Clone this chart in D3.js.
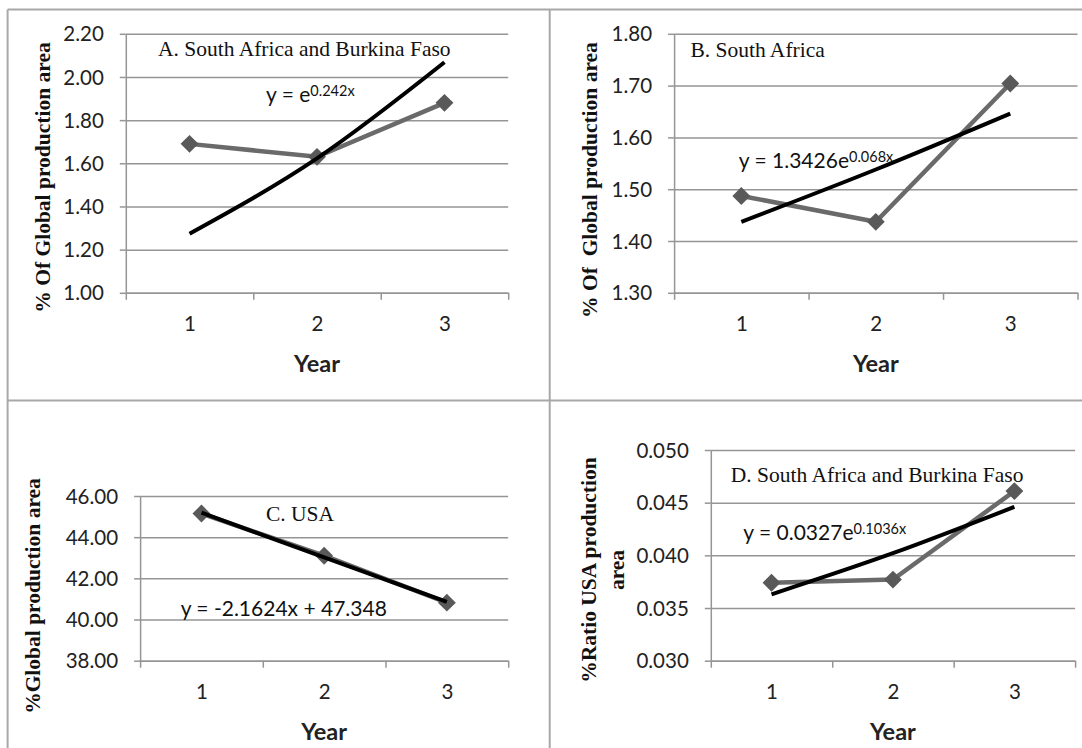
<!DOCTYPE html>
<html>
<head>
<meta charset="utf-8">
<script src="https://cdn.jsdelivr.net/npm/d3@7"></script>
<style>
  body { margin: 0; background: #fff; }
  svg { display: block; }
  .tick text { font-family: Lato, sans-serif; font-size: 20.5px; fill: #222; }
  .eq { font-family: Lato, sans-serif; font-size: 21px; fill: #111; }
  .yearLabel { font-family: Lato, sans-serif; font-size: 23.5px; font-weight: bold; fill: #222; }
  .panelTitle { font-family: "Liberation Serif", serif; font-size: 21.5px; fill: #111; }
  .axisTitle { font-family: "Liberation Serif", serif; font-size: 21.5px; font-weight: bold; fill: #111; white-space: pre; }
</style>
</head>
<body>
<div id="chart"></div>
<script>
'use strict';

// Data
const years = [1, 2, 3];

const shareA = [1.69, 1.63, 1.88];
const trendA = [1.274, 1.623, 2.068];
const ticksA = [1.00, 1.20, 1.40, 1.60, 1.80, 2.00, 2.20];

const shareB = [1.487, 1.437, 1.704];
const trendB = [1.437, 1.538, 1.646];
const ticksB = [1.30, 1.40, 1.50, 1.60, 1.70, 1.80];

const shareC = [45.15, 43.10, 40.82];
const trendC = [45.19, 43.02, 40.86];
const ticksC = [38, 40, 42, 44, 46];

const ratioD = [0.0374, 0.0377, 0.0461];
const trendD = [0.0363, 0.0402, 0.0446];
const ticksD = [0.030, 0.035, 0.040, 0.045, 0.050];

const panelTitles = ['A. South Africa and Burkina Faso', 'B. South Africa', 'C. USA', 'D. South Africa and Burkina Faso'];
const equations = [['y = e', '0.242x'], ['y = 1.3426e', '0.068x'], ['y = -2.1624x + 47.348', ''], ['y = 0.0327e', '0.1036x']];
const yTitles = [['% Of Global production area'], ['% Of  Global production area'], ['%Global production area'], ['%Ratio USA production', 'area']];
const xTitle = 'Year';

// Configs
const svgW = 1082;
const svgH = 748;
const frameColor = '#a8a8a8';
const gridColor = '#959595';
const lineColor = '#6a6a6a';
const markerColor = '#595959';

const panels = [
    {values: shareA, trend: trendA, ticks: ticksA, fmt: '.2f', left: 125.8, right: 508.2, top: 33.8, bottom: 292.8,
        titleX: 158, titleY: 55.5, eqX: 266, eqY: 102, yTitleX: 50, yTitleY: 177.5},
    {values: shareB, trend: trendB, ticks: ticksB, fmt: '.2f', left: 674.1, right: 1077.5, top: 33.8, bottom: 292.8,
        titleX: 690.4, titleY: 56.5, eqX: 738.8, eqY: 168.3, yTitleX: 597, yTitleY: 180},
    {values: shareC, trend: trendC, ticks: ticksC, fmt: '.2f', left: 140.1, right: 508.2, top: 496, bottom: 660.7,
        titleX: 266, titleY: 520.7, eqX: 180.7, eqY: 615.5, yTitleX: 39.5, yTitleY: 596},
    {values: ratioD, trend: trendD, ticks: ticksD, fmt: '.3f', left: 710.8, right: 1075.1, top: 450, bottom: 660.7,
        titleX: 730.8, titleY: 482, eqX: 743.3, eqY: 540, yTitleX: 595.5, yTitleY: 570}
];

const svg = d3.select('#chart')
    .append('svg')
    .attr('width', svgW)
    .attr('height', svgH);

// Frame of the four cells
const frame = svg.append('g')
    .attr('stroke', frameColor)
    .attr('stroke-width', 2);
frame.append('line').attr('x1', 7.6).attr('x2', 7.6).attr('y1', 9.5).attr('y2', svgH);
frame.append('line').attr('x1', 549.7).attr('x2', 549.7).attr('y1', 9.5).attr('y2', svgH);
frame.append('line').attr('x1', 7.6).attr('x2', svgW).attr('y1', 9.5).attr('y2', 9.5);
frame.append('line').attr('x1', 7.6).attr('x2', svgW).attr('y1', 400.5).attr('y2', 400.5);

function drawPanel(p, i) {
    const g = svg.append('g').attr('class', 'panel');

    const xScale = d3.scaleLinear().domain([0.5, 3.5]).range([p.left, p.right]);
    const yScale = d3.scaleLinear().domain(d3.extent(p.ticks)).range([p.bottom, p.top]);

    // Gridlines
    g.append('g')
        .attr('transform', `translate(${p.left},0)`)
        .attr('color', gridColor)
        .call(d3.axisLeft(yScale).tickValues(p.ticks).tickSize(-(p.right - p.left)).tickFormat(''))
        .call(a => a.select('.domain').remove())
        .call(a => a.selectAll('line').attr('stroke-width', 1.5));

    // Y axis
    g.append('g')
        .attr('transform', `translate(${p.left},0)`)
        .attr('color', gridColor)
        .call(d3.axisLeft(yScale).tickValues(p.ticks).tickSize(6).tickSizeOuter(0)
            .tickPadding(16).tickFormat(d3.format(p.fmt)))
        .call(a => a.selectAll('path, line').attr('stroke-width', 1.5))
        .call(a => a.selectAll('text').attr('dy', '0.35em'));

    // X axis: marks between years, labels at years
    g.append('g')
        .attr('transform', `translate(0,${p.bottom})`)
        .attr('color', gridColor)
        .call(d3.axisBottom(xScale).tickValues([0.5, 1.5, 2.5, 3.5]).tickSize(7).tickSizeOuter(0).tickFormat(''))
        .call(a => a.selectAll('path, line').attr('stroke-width', 1.5));
    g.append('g')
        .attr('transform', `translate(0,${p.bottom})`)
        .call(d3.axisBottom(xScale).tickValues(years).tickSize(0).tickPadding(24).tickFormat(d3.format('d')))
        .call(a => a.select('.domain').remove());

    // Series line and markers
    const line = d3.line()
        .x((d, j) => xScale(years[j]))
        .y(d => yScale(d));
    g.append('path')
        .datum(p.values)
        .attr('fill', 'none')
        .attr('stroke', lineColor)
        .attr('stroke-width', 4.5)
        .attr('d', line);
    g.selectAll('.marker')
        .data(p.values)
        .join('path')
        .attr('class', 'marker')
        .attr('fill', markerColor)
        .attr('transform', (d, j) => `translate(${xScale(years[j])},${yScale(d)}) rotate(45)`)
        .attr('d', d3.symbol(d3.symbolSquare, 160));

    // Trendline
    g.append('path')
        .datum(p.trend)
        .attr('fill', 'none')
        .attr('stroke', '#000')
        .attr('stroke-width', 4)
        .attr('d', line.curve(d3.curveNatural));

    // Texts
    g.append('text')
        .attr('class', 'panelTitle')
        .attr('x', p.titleX)
        .attr('y', p.titleY)
        .text(panelTitles[i]);

    const eq = g.append('text')
        .attr('class', 'eq')
        .attr('x', p.eqX)
        .attr('y', p.eqY);
    eq.append('tspan').text(equations[i][0]);
    if (equations[i][1]) {
        eq.append('tspan')
            .attr('font-size', '14.5px')
            .attr('dy', -6.5)
            .text(equations[i][1]);
    }

    const yt = g.append('text')
        .attr('class', 'axisTitle')
        .attr('text-anchor', 'middle')
        .attr('transform', `translate(${p.yTitleX},${p.yTitleY}) rotate(-90)`);
    yTitles[i].forEach((t, k) => {
        yt.append('tspan')
            .attr('x', 0)
            .attr('dy', k === 0 ? 0 : 28)
            .text(t);
    });

    g.append('text')
        .attr('class', 'yearLabel')
        .attr('text-anchor', 'middle')
        .attr('x', (p.left + p.right) / 2)
        .attr('y', p.bottom + 79)
        .text(xTitle);
}

panels.forEach(drawPanel);
</script>
</body>
</html>
